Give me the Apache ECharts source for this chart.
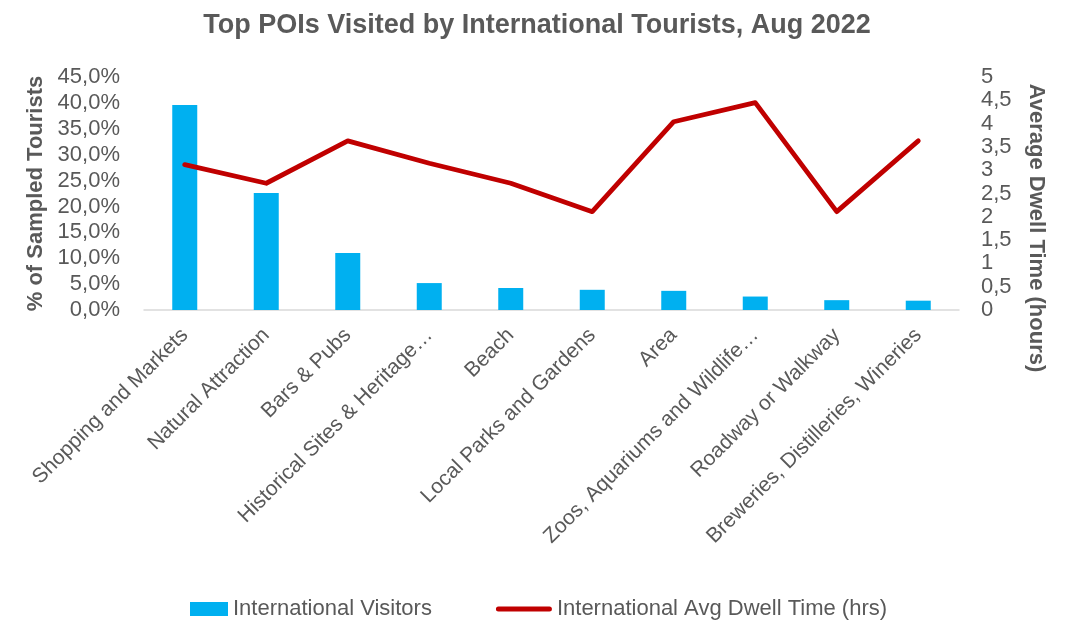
<!DOCTYPE html>
<html>
<head>
<meta charset="utf-8">
<title>Top POIs Visited by International Tourists, Aug 2022</title>
<script src="https://cdn.jsdelivr.net/npm/echarts@6/dist/echarts.min.js"></script>
<style>
  html, body { margin: 0; padding: 0; background: #ffffff; }
  #chart { width: 1074px; height: 620px; }
</style>
</head>
<body>
<div id="chart"></div>
<script>
// Points of interest, in ranking order
const categories = [
  'Shopping and Markets',
  'Natural Attraction',
  'Bars & Pubs',
  'Historical Sites & Heritage…',
  'Beach',
  'Local Parks and Gardens',
  'Area',
  'Zoos, Aquariums and Wildlife…',
  'Roadway or Walkway',
  'Breweries, Distilleries, Wineries'
];

// Share of sampled international tourists (%)
const visitorShare = [39.6, 22.6, 11.0, 5.2, 4.25, 3.9, 3.7, 2.6, 1.9, 1.8];

// Average dwell time of international visitors (hours)
const dwellHours = [3.12, 2.72, 3.63, 3.15, 2.72, 2.11, 4.04, 4.45, 2.11, 3.63];

// Axis ranges and tick spacing
const shareAxis = { min: 0, max: 45, interval: 5 };
const hoursAxis = { min: 0, max: 5, interval: 0.5 };

const FONT = '"Liberation Sans Narrow", "Arial Narrow", "Liberation Sans", sans-serif';
const TEXT = '#595959';
const BLUE = '#00B0F0';
const RED = '#C00000';

const comma = (s) => String(s).replace('.', ',');

// Legend keys share one 56x14 box: a 38px block for the bars,
// a thick rounded stroke for the line.
const barKey = 'path://M0,0 M18,0 L56,0 L56,14 L18,14 Z';
const lineKey = 'path://M0,0 M56,14 M2.5,4.5 L53.5,4.5 A2.5,2.5 0 0 1 53.5,9.5 L2.5,9.5 A2.5,2.5 0 0 1 2.5,4.5 Z';

const chart = echarts.init(document.getElementById('chart'), null, { renderer: 'canvas' });

chart.setOption({
  backgroundColor: '#ffffff',
  animation: false,
  textStyle: { fontFamily: FONT, color: TEXT },
  title: {
    text: 'Top POIs Visited by International Tourists, Aug 2022',
    left: 'center',
    top: 7,
    textStyle: { fontFamily: FONT, fontSize: 27, fontWeight: 'bold', color: TEXT }
  },
  grid: { left: 144, right: 115, top: 77, bottom: 310 },
  legend: {
    left: 167,
    top: 593,
    itemWidth: 56,
    itemHeight: 14,
    itemGap: 64,
    textStyle: { fontFamily: FONT, fontSize: 22, color: TEXT },
    data: [
      { name: 'International Visitors', icon: barKey, itemStyle: { color: BLUE } },
      { name: 'International Avg Dwell Time (hrs)', icon: lineKey, itemStyle: { color: RED } }
    ]
  },
  xAxis: {
    type: 'category',
    data: categories,
    axisLine: { lineStyle: { color: '#D9D9D9', width: 1.5 } },
    axisTick: { show: false },
    axisLabel: {
      interval: 0,
      rotate: 45,
      margin: 22,
      fontFamily: FONT,
      fontSize: 21,
      color: TEXT
    }
  },
  yAxis: [
    {
      type: 'value',
      min: shareAxis.min,
      max: shareAxis.max,
      interval: shareAxis.interval,
      name: '% of Sampled Tourists',
      nameLocation: 'middle',
      nameGap: 96,
      nameTextStyle: { fontFamily: FONT, fontSize: 22, fontWeight: 'bold', color: TEXT },
      axisLine: { show: false },
      axisTick: { show: false },
      splitLine: { show: false },
      axisLabel: {
        margin: 24,
        fontFamily: FONT,
        fontSize: 22,
        color: TEXT,
        formatter: (v) => comma(v.toFixed(1)) + '%'
      }
    },
    {
      type: 'value',
      position: 'right',
      min: hoursAxis.min,
      max: hoursAxis.max,
      interval: hoursAxis.interval,
      axisLine: { show: false },
      axisTick: { show: false },
      splitLine: { show: false },
      axisLabel: {
        margin: 22,
        fontFamily: FONT,
        fontSize: 22,
        color: TEXT,
        formatter: (v) => comma(v)
      }
    }
  ],
  graphic: [
    {
      type: 'text',
      x: 1036,
      y: 228,
      rotation: -Math.PI / 2,
      style: {
        text: 'Average Dwell Time (hours)',
        fontFamily: FONT,
        fontSize: 22,
        fontWeight: 'bold',
        fill: TEXT,
        align: 'center',
        verticalAlign: 'middle'
      }
    }
  ],
  series: [
    {
      name: 'International Visitors',
      type: 'bar',
      yAxisIndex: 0,
      data: visitorShare,
      barWidth: 25,
      itemStyle: { color: BLUE }
    },
    {
      name: 'International Avg Dwell Time (hrs)',
      type: 'line',
      yAxisIndex: 1,
      data: dwellHours,
      symbol: 'none',
      lineStyle: { color: RED, width: 4.8, cap: 'round', join: 'round' },
      itemStyle: { color: RED }
    }
  ]
});
</script>
</body>
</html>
